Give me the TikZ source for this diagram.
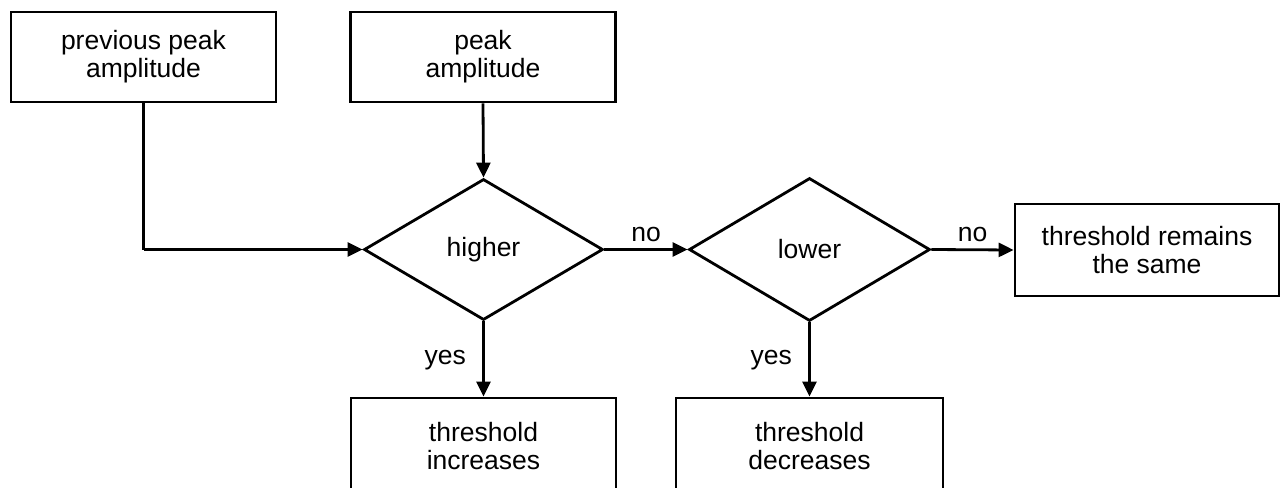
\documentclass[tikz,border=0pt]{standalone}
\usepackage{fontspec}
\setmainfont{Liberation Sans}
\usetikzlibrary{shapes.geometric,arrows.meta}
\tikzset{
  lbl/.style={font=\fontsize{26.5}{28}\selectfont},
  boxnode/.style={draw, line width=2.8pt, rectangle, align=center, inner sep=0pt,
    minimum width=265pt, minimum height=90pt, lbl},
  decnode/.style={draw, line width=2.8pt, diamond, inner sep=0pt, lbl},
  conn/.style={line width=2.8pt, -{Triangle[length=15pt,width=14pt]}},
  plainconn/.style={line width=2.8pt},
}
\begin{document}
\begin{tikzpicture}[x=1pt,y=-1pt]
\useasboundingbox[fill=white] (0,0) rectangle (1281,487);
\node[boxnode] (prev) at (143.5,57) {previous peak\\amplitude};
\node[boxnode] (peak) at (483,57) {peak\\amplitude};
\node[decnode, minimum width=239pt, minimum height=141pt] (higher) at (483.5,249.5) {higher};
\node[decnode, minimum width=241pt, minimum height=143pt] (lower) at (809.5,249.5) {lower};
\node[boxnode, minimum width=264pt, minimum height=92pt] (same) at (1147,250) {threshold remains\\the same};
\node[boxnode, minimum height=96pt] (inc) at (483.5,446) {threshold\\increases};
\node[boxnode, minimum width=267pt, minimum height=96pt] (dec) at (809.5,446) {threshold\\decreases};
\coordinate (bend) at (prev.south |- higher.west);
\draw[plainconn] (prev.south) -- (bend);
\draw[conn] (bend) -- (higher.west);
\draw[conn] (peak.south) -- (higher.north);
\draw[conn] (higher.east) -- node[lbl, above=3pt] {no} (lower.west);
\draw[conn] (lower.east) -- node[lbl, above=3pt] {no} (same.west);
\draw[conn] (higher.south) -- node[lbl, left=13pt, yshift=-1pt] {yes} (inc.north);
\draw[conn] (lower.south) -- node[lbl, left=13pt, yshift=-1pt] {yes} (dec.north);
\end{tikzpicture}
\end{document}
